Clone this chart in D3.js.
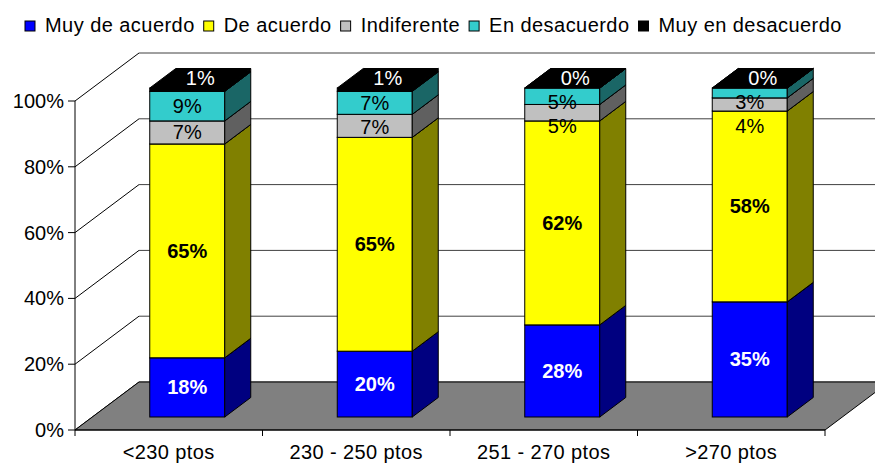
<!DOCTYPE html>
<html>
<head>
<meta charset="utf-8">
<script src="https://cdn.jsdelivr.net/npm/d3@7"></script>
<style>
  body { margin: 0; background: #fff; }
  text { font-family: Arial, "Liberation Sans", sans-serif; }
</style>
</head>
<body>
<div id="chart"></div>
<script>
const categories = ["<230 ptos", "230 - 250 ptos", "251 - 270 ptos", ">270 ptos"];
const seriesNames = ["Muy de acuerdo", "De acuerdo", "Indiferente", "En desacuerdo", "Muy en desacuerdo"];
const muyDeAcuerdo = [18, 20, 28, 35];
const deAcuerdo = [65, 65, 62, 58];
const indiferente = [7, 7, 5, 4];
const enDesacuerdo = [9, 7, 5, 3];
const muyEnDesacuerdo = [1, 1, 0, 0];
const yTicks = [0, 20, 40, 60, 80, 100];

const frontColors = ["#0000ff", "#ffff00", "#c0c0c0", "#33cccc", "#000000"];
const sideColors = ["#000080", "#808000", "#606060", "#1a6666", "#000000"];

const values = [muyDeAcuerdo, deAcuerdo, indiferente, enDesacuerdo, muyEnDesacuerdo];
const rows = categories.map((c, i) => {
  const r = { cat: c };
  seriesNames.forEach((s, k) => (r[s] = values[k][i]));
  return r;
});
const stacked = d3.stack().keys(seriesNames)(rows);

const width = 875, height = 464;
const svg = d3.select("#chart").append("svg")
  .attr("width", width).attr("height", height);

const x = d3.scaleBand().domain(categories).range([75, 825]);
const y = d3.scaleLinear().domain([0, 100]).range([430, 101]);

// depth of the 3D box, and where the bars sit in it
const depth = { dx: 64, dy: -48 };
const barFront = { dx: 18.5, dy: -13 };
const barSide = { dx: 26, dy: -19.5 };
const barWidth = 75;

const line = (x1, y1, x2, y2, stroke) => svg.append("line")
  .attr("x1", x1).attr("y1", y1).attr("x2", x2).attr("y2", y2)
  .attr("stroke", stroke).attr("stroke-width", 1);

// walls: gridlines on the back wall and the left wall
yTicks.forEach((t) => {
  line(75, y(t), 75 + depth.dx, y(t) + depth.dy, "#000");
  line(75 + depth.dx, y(t) + depth.dy, 825 + depth.dx, y(t) + depth.dy, "#404040");
});

// floor
svg.append("path")
  .attr("d", `M75,${y(0)}L825,${y(0)}L${825 + depth.dx},${y(0) + depth.dy}L${75 + depth.dx},${y(0) + depth.dy}Z`)
  .attr("fill", "#808080").attr("stroke", "#000");

// axes
line(75, y(0), 75, y(100), "#000");
line(75, y(0), 825, y(0), "#000");
yTicks.forEach((t) => {
  line(68, y(t), 75, y(t), "#000");
  svg.append("text")
    .attr("x", 64).attr("y", y(t)).attr("dy", "0.35em")
    .attr("text-anchor", "end").attr("font-size", 20)
    .text(t + "%");
});
[...categories.map((c) => x(c)), 825].forEach((px) => line(px, y(0), px, y(0) + 6, "#000"));
categories.forEach((c) => {
  svg.append("text")
    .attr("x", x(c) + x.bandwidth() / 2).attr("y", 459)
    .attr("text-anchor", "middle").attr("font-size", 20)
    .attr("letter-spacing", "0.4px")
    .text(c);
});

// bars
const bars = svg.append("g");
categories.forEach((c, i) => {
  const x0 = x(c) + x.bandwidth() / 2 + barFront.dx - barWidth / 2;
  const x1 = x0 + barWidth;
  stacked.forEach((s, k) => {
    const yb = y(s[i][0]) + barFront.dy;
    const yt = y(s[i][1]) + barFront.dy;
    bars.append("rect")
      .attr("x", x0).attr("y", yt).attr("width", barWidth).attr("height", yb - yt)
      .attr("fill", frontColors[k]).attr("stroke", "#000");
    bars.append("path")
      .attr("d", `M${x1},${yb}L${x1 + barSide.dx},${yb + barSide.dy}L${x1 + barSide.dx},${yt + barSide.dy}L${x1},${yt}Z`)
      .attr("fill", sideColors[k]).attr("stroke", "#000");
    bars.append("path")
      .attr("d", `M${x0},${yt}L${x1},${yt}L${x1 + barSide.dx},${yt + barSide.dy}L${x0 + barSide.dx},${yt + barSide.dy}Z`)
      .attr("fill", k === stacked.length - 1 ? "#000" : sideColors[k]).attr("stroke", "#000");
  });

  // data labels, from top down, pushed apart when crowded
  const cx = (x0 + x1) / 2;
  let prev = null;
  for (let k = stacked.length - 1; k >= 0; k--) {
    const s = stacked[k][i];
    const val = s[1] - s[0];
    let lx = cx, ly;
    if (k === stacked.length - 1) {
      lx = cx + barSide.dx / 2;
      ly = y(s[1]) + barFront.dy + barSide.dy / 2;
    } else {
      ly = (y(s[0]) + y(s[1])) / 2 + barFront.dy;
      if (prev !== null) ly = Math.max(ly, prev + 24);
    }
    prev = ly;
    const bold = k < 2;
    svg.append("text")
      .attr("x", lx).attr("y", ly).attr("dy", "0.35em")
      .attr("text-anchor", "middle").attr("font-size", 20)
      .attr("font-weight", bold ? "bold" : "normal")
      .attr("fill", k === 0 || k === 4 ? "#fff" : "#000")
      .text(val + "%");
  }
});

// legend
const legend = svg.append("g");
let lx = 25;
seriesNames.forEach((s, k) => {
  legend.append("rect")
    .attr("x", lx).attr("y", 21).attr("width", 10).attr("height", 10)
    .attr("fill", frontColors[k]).attr("stroke", "#000");
  const t = legend.append("text")
    .attr("x", lx + 20).attr("y", 31.5).attr("font-size", 20)
    .attr("letter-spacing", "0.45px")
    .text(s);
  lx += 20 + t.node().getComputedTextLength() + 9;
});
</script>
</body>
</html>
